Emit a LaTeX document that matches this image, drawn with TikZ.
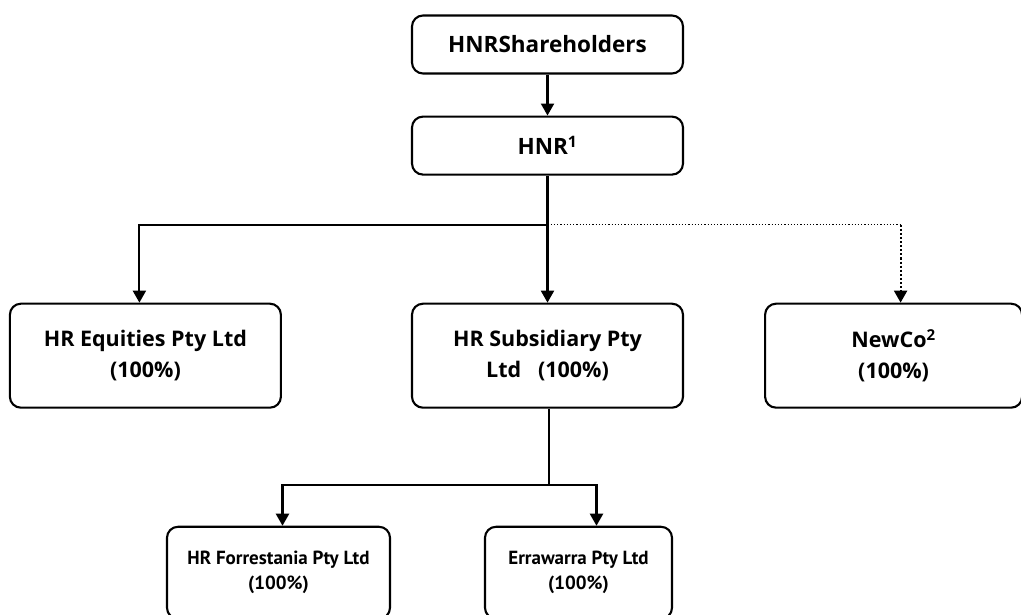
\documentclass[tikz,border=0pt]{standalone}
\usepackage{fontspec}
\setmainfont{Open Sans}
\newfontfamily\narrowfont{PT Sans}
\usetikzlibrary{arrows.meta,positioning,calc}

\begin{document}
\begin{tikzpicture}[
  x=1pt, y=1pt,
  node distance=41pt and 80pt,
  every node/.style={
    draw=black,
    line width=2.1pt,
    rounded corners=11pt,
    align=center,
    font=\fontsize{22.5}{28}\selectfont\bfseries
  },
  topbox/.style={minimum width=271pt, minimum height=58pt},
  entity/.style={minimum width=271pt, minimum height=104pt,
    font=\fontsize{21.5}{30.5}\selectfont\bfseries},
  subbox/.style={minimum height=92pt, inner xsep=2pt,
    font=\narrowfont\fontsize{19}{25}\selectfont\bfseries},
  arrow/.style={-{Triangle[length=12pt,width=13pt]}, line width=2.1pt},
  maybe/.style={arrow, dotted},
  maybeline/.style={dotted, line width=1.2pt}
]
  \useasboundingbox (0,0) rectangle (1021,615);

  \node[topbox] (holders) at (547.5,570.5) {HNRShareholders};
  \node[topbox, below=of holders] (hnr) {HNR\textsuperscript{1}};

  \node[entity, below=127pt of hnr] (subsidiary) {HR Subsidiary Pty\\Ltd\ \ \ (100\%)};
  \node[entity, left=129pt of subsidiary] (equities) {HR Equities Pty Ltd\\(100\%)};
  \node[entity, minimum width=257pt, right=of subsidiary] (newco) {NewCo\textsuperscript{2}\\(100\%)};

  \node[subbox, minimum width=223pt, below=117pt of subsidiary, xshift=-269pt] (forrestania) {HR Forrestania Pty Ltd\\(100\%)};
  \node[subbox, minimum width=187pt, below=117pt of subsidiary, xshift=31pt] (errawarra) {Errawarra Pty Ltd\\(100\%)};

  \coordinate (split) at ([yshift=-49pt]hnr.south);
  \coordinate (newcotop) at ([xshift=7pt]newco.north);
  \coordinate (newcoturn) at (split -| newcotop);
  \coordinate (subsplit) at ([xshift=1.5pt, yshift=-76pt]subsidiary.south);

  \draw[arrow] (holders) -- (hnr);
  \draw[line width=2.1pt] (hnr.south) -- (split);
  \draw[arrow] (split) -| ([xshift=-6pt]equities.north);
  \draw[arrow] (split) -- (subsidiary.north -| split);
  \draw[maybeline] (split) -- (newcoturn);
  \draw[maybe] (newcoturn) -- (newcotop);

  \draw[line width=2.1pt] (subsidiary.south -| subsplit) -- (subsplit);
  \draw[arrow] (subsplit) -| ([xshift=4pt]forrestania.north);
  \draw[arrow] (subsplit) -| ([xshift=18pt]errawarra.north);
\end{tikzpicture}
\end{document}
